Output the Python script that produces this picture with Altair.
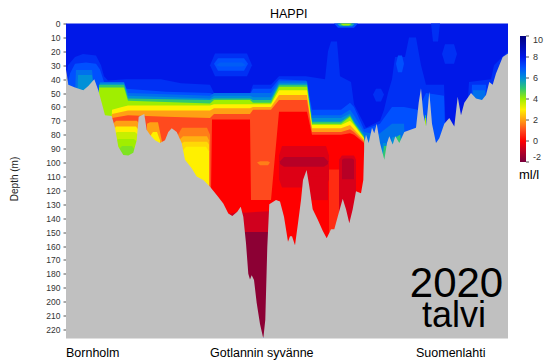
import altair as alt
import pandas as pd

# Colour scale (ml/l)
LEVEL_VALUES = [-2, -1.5, -0.7, 0, 1, 2, 3, 4, 5, 6, 7, 7.5, 8, 10]
LEVEL_COLORS = ['#78003c', '#8c0034', '#d0001e', '#ff0000', '#ff4a1e', '#ffa014', '#fff000',
                '#a0ee00', '#30c870', '#0090d8', '#0050ff', '#0030f4', '#0018e8', '#000080']
LEGEND_VALUES = [-2, 0, 2, 4, 6, 8, 10]
DEPTH_TICKS = list(range(0, 230, 10))
MAX_DEPTH = 226.5
BAND_FLOOR = 225
MAX_DIST = 442

# Sea bed profile: distance along section, depth (m)
BED_X = [0, 0.7, 2.3, 9, 17.3, 22.3, 28.3, 32.3, 35.7, 39, 45.7, 49, 52.3, 57.3, 62.3, 67.3, 70.7, 72.7, 75.7, 78.3,
         80.7, 84, 89, 94, 99, 102.3, 105.7, 110.7, 115.7, 119, 125.7, 130.7, 137.3, 144, 150.7, 157.3, 162.3, 166.3,
         171.3, 174.7, 177.3, 180, 182.3, 184, 185.7, 188, 190.7, 194, 197.3, 199.3, 201.3, 203.3, 210, 214, 218, 222,
         224, 226, 229, 232, 235, 237, 240.6, 243.3, 246.7, 251.7, 256.7, 260.7, 265, 268.3, 271.7, 276.7, 280, 283.3,
         286.7, 290, 295, 297.3, 298.3, 300, 302.7, 306, 308.3, 310.7, 314, 318.3, 321, 323.3, 326.7, 329.3, 333.3,
         338.3, 350, 352.7, 355, 357.3, 360, 361.7, 363.3, 366, 370, 373.3, 378.3, 383.3, 388.3, 391.7, 395, 398.3,
         405, 410, 416, 420, 423.3, 426.7, 430, 436.7, 442]
BED_D = [33, 36, 44, 46, 48, 45, 40, 48, 57, 66, 66.5, 75, 88.6, 94.6, 95, 93, 84, 67, 66, 65,
         76.6, 80, 84, 86, 84, 78, 75.4, 78, 86, 98, 104, 110, 112.6, 117.4, 123.4, 129.4, 136.6, 138.5,
         135.4, 131.8, 139, 158, 180, 184, 181, 184.5, 201, 216, 226.5, 213, 160.5, 130, 127, 128, 139, 157,
         153, 153, 159.5, 143.6, 127, 112.6, 105.4, 117, 133.6, 141, 149, 154.5, 148, 148, 139, 126, 133.6, 143.6,
         133.6, 120.6, 122, 112.6, 86, 80, 86, 75, 79, 72, 86, 98, 86, 81, 87, 81, 86,
         78, 75, 57, 46.6, 65, 74, 62, 49, 72, 86, 82.6, 72, 68, 74, 52.6, 66, 57,
         50, 54, 55, 51.4, 42, 44, 36, 24, 21.5]

# Isolines: distance, depth of the top of each band
L75_X = [0, 2, 9, 17, 30, 35, 38, 42, 60, 95, 115, 144, 148, 184, 187, 205, 213, 240, 259, 262, 265, 271, 274, 285, 288,
         300, 314, 318, 322, 326, 329, 339, 343, 350, 355, 360, 378, 381, 398, 403, 425, 428, 442]
L75_D = [40, 30, 24, 22, 23, 30, 38, 41, 40, 40, 43, 44, 50, 50, 44, 44, 38, 38, 40, 20, 13, 13, 38, 42, 58,
         75, 70, 62, 50, 40, 24, 24, 10, 10, 30, 44, 44, 100, 100, 42, 40, 30, 20]
L7_X = [0, 4, 9, 20, 30, 34, 38, 42, 60, 100, 144, 148, 184, 187, 205, 213, 240, 246, 275, 284, 288, 298, 314, 318, 326,
        338, 352, 360, 378, 380, 403, 406, 420, 424, 442]
L7_D = [48, 36, 29, 28, 29, 33, 42, 47, 47, 49, 50, 51, 51, 47, 47, 40, 41, 62, 62, 57, 60, 76, 72, 68, 60,
        60, 62, 50, 52, 100, 100, 44, 44, 100, 100]
L65_X = [0, 6, 10, 26, 30, 34, 58, 62, 144, 148, 184, 187, 205, 213, 241, 246, 275, 284, 288, 298, 312, 326, 338, 340, 404, 407, 419, 422]
L65_D = [100, 100, 33.5, 33.5, 60, 42, 42, 50, 52, 50, 50, 50, 50, 41.5, 41.5, 66, 66, 62, 66, 78, 80, 72, 72, 100, 100, 48, 48, 100]
L6_X = [0, 10, 12, 26, 30, 34, 58, 62, 144, 148, 184, 187, 205, 213, 241, 246, 275, 284, 288, 298, 300, 314, 317, 320, 324, 326, 335, 338, 442]
L6_D = [100, 100, 37, 37, 60, 43, 43, 52, 54, 52, 52, 53, 53, 43, 43, 68, 68, 64.7, 70, 80, 100, 100, 86, 86, 100, 82, 80, 100, 100]
L5_X = [33, 58, 62, 144, 148, 184, 187, 205, 213, 241, 246, 275, 284, 288, 298, 300, 316, 318, 321, 323, 327, 330, 334, 337, 358, 359, 360, 361, 442]
L5_D = [44, 44, 54, 55, 54, 54, 55, 55, 44, 44, 70.7, 70.7, 66, 71, 81, 100, 100, 88, 88, 100, 100, 82, 80, 100, 100, 66, 66, 100, 100]
L4_X = [33, 58, 62, 144, 148, 184, 187, 205, 213, 241, 246, 275, 284, 288, 298, 300, 358, 359, 360, 361, 442]
L4_D = [46, 46, 55.5, 57.5, 55, 55, 57, 57, 45.5, 45.5, 72, 72, 67, 72, 82, 100, 100, 68, 68, 100, 100]
L3_X = [44, 46, 56, 62, 144, 148, 184, 187, 205, 213, 241, 246, 275, 284, 288, 298, 300]
L3_D = [100, 62, 60, 59, 59, 58, 58, 58, 58, 48, 48, 73, 73, 70, 73, 82.6, 100]
L2_X = [44, 46, 62, 144, 148, 184, 187, 205, 213, 241, 246, 275, 284, 288, 298, 300]
L2_D = [100, 65, 62.5, 62.5, 61, 61, 60, 60, 51.5, 51.5, 75.4, 75.4, 73, 76, 83.8, 100]
L1_X = [44, 46, 62, 100, 144, 148, 184, 187, 205, 213, 241, 246, 275, 284, 288, 298, 300]
L1_D = [100, 68, 66, 67, 68, 65, 65, 62, 62, 55, 55, 78, 78, 76, 78, 85, 100]
L0_X = [143, 146, 184, 185, 205, 213, 241, 246, 275, 284, 288, 298, 300]
L0_D = [225, 69, 69, 127, 127, 63.5, 63.5, 80, 80, 79, 80, 86, 100]
LM07_X = [146, 175, 178, 204]
LM07_D = [140, 135, 136, 135]
LM15_X = [178, 204]
LM15_D = [150, 150]

ISOLINES = [(7.5, L75_X, L75_D), (7, L7_X, L7_D), (6.5, L65_X, L65_D), (6, L6_X, L6_D), (5, L5_X, L5_D),
            (4, L4_X, L4_D), (3, L3_X, L3_D), (2, L2_X, L2_D), (1, L1_X, L1_D), (0, L0_X, L0_D),
            (-0.7, LM07_X, LM07_D), (-1.5, LM15_X, LM15_D)]

# Closed patches painted over the isolines: value, distance, top depth, bottom depth
PATCHES = [
    (2, [46, 50, 71, 74], [73, 70, 70, 73], [100, 100, 100, 100]),
    (3, [47, 50, 70, 73], [77, 74, 74, 77], [100, 100, 100, 100]),
    (3.6, [48, 51, 69, 72], [80, 78, 78, 80], [100, 100, 100, 100]),
    (4, [49, 52, 68, 71], [85, 83, 83, 85], [100, 100, 100, 100]),
    (4.3, [52, 56, 66, 69], [91, 88, 88, 91], [100, 100, 100, 100]),
    (2, [81, 84, 92, 96], [72, 71, 71, 85], [100, 100, 100, 100]),
    (3, [85, 87, 91, 94], [80, 78, 78, 84], [100, 100, 100, 100]),
    (1.6, [112, 116, 141, 144], [80, 75, 75, 80], [130, 130, 130, 130]),
    (2.2, [113, 117, 141, 143], [84, 81, 81, 84], [130, 130, 130, 130]),
    (2.7, [114, 118, 141, 143], [87, 85, 85, 87], [130, 130, 130, 130]),
    (3, [116, 120, 140, 143], [92, 88.6, 88.6, 92], [130, 130, 130, 130]),
    (7.5, [144, 149, 181, 186], [30, 21.5, 21.5, 30], [30, 38, 38, 30]),
    (7, [148, 152, 178, 182], [29, 25, 25, 29], [29, 34, 34, 29]),
    (6.8, [150, 154, 176, 180], [30, 28, 28, 30], [30, 31, 31, 30]),
    (7, [268, 272, 288, 292], [0, 0, 0, 0], [0, 3, 3, 0]),
    (5.5, [271, 274, 286, 289], [0, 0, 0, 0], [0, 2, 2, 0]),
    (4, [274, 277, 283, 286], [0, 0, 0, 0], [0, 1.5, 1.5, 0]),
    (7.5, [365, 367, 372, 374], [0, 0, 0, 0], [0, 13, 13, 0]),
    (7.5, [376, 379, 388, 391], [22, 15, 15, 22], [22, 29, 29, 22]),
    (7.5, [307, 310, 315, 318], [51, 47, 47, 51], [51, 56, 56, 51]),
    (7, [330, 332, 336, 338], [29, 23, 23, 29], [29, 35, 35, 29]),
    (-0.5, [213, 216, 260, 263], [95, 88, 88, 95], [112, 118, 118, 112]),
    (-1, [214, 218, 258, 262], [99, 96, 96, 99], [101, 103, 103, 101]),
    (-0.5, [243, 246, 260, 262], [110, 110, 110, 110], [127, 127, 127, 127]),
    (0.6, [263, 265, 271, 273], [105, 105, 105, 105], [150, 150, 150, 150]),
    (-0.6, [273, 276, 288, 290], [98, 95, 95, 98], [145, 145, 145, 145]),
    (-1, [276, 278, 286, 288], [98, 97, 97, 98], [112, 112, 112, 112]),
    (1.6, [191, 194, 202, 204], [100, 99, 99, 100], [100, 102, 102, 100]),
]

# Text labels: text, left x, baseline y (page pixels), size
PLOT_LEFT, PLOT_TOP = 66, 23.5
FONT = "Liberation Sans"
LABELS = [("HAPPI", 270, 18, 12.5, "left"), ("Bornholm", 66, 357, 12.5, "left"),
          ("Gotlannin syvänne", 210, 357, 12.5, "left"), ("Suomenlahti", 416, 357, 12.5, "left"),
          ("ml/l", 519, 179, 13, "left"), ("2020", 456.5, 297, 42, "center"), ("talvi", 454, 326.7, 36, "center")]
BAR_TOP, BAR_LEN, BAR_RIGHT = 36, 126, 526

x_scale = alt.Scale(domain=[0, MAX_DIST], nice=False, zero=False)
y_scale = alt.Scale(domain=[0, MAX_DEPTH], reverse=True, nice=False, zero=False)
color = alt.Color(
    "v:Q",
    scale=alt.Scale(domain=LEVEL_VALUES, range=LEVEL_COLORS, interpolate="rgb"),
    legend=alt.Legend(orient="none", legendX=454, legendY=12.5, title=None, values=LEGEND_VALUES,
                      gradientLength=BAR_LEN, gradientThickness=6, labelFontSize=9, labelFont=FONT,
                      labelColor="#333333", labelOffset=7, direction="vertical",
                      labelExpr="'' + datum.value"),
)
y_axis = alt.Axis(
    values=DEPTH_TICKS, title="Depth (m)", titleFont=FONT, titleFontSize=10,
    titleFontWeight="normal", titleX=-47, titleY=155, titleColor="#222222", labelFont=FONT,
    labelFontSize=8.5, labelColor="#333333", tickSize=3, tickColor="#555555",
    labelPadding=3, domain=False, grid=False, labelOverlap=False)


def band(v, xs, tops, bottoms):
    df = pd.DataFrame({"x": xs, "d": tops, "d2": bottoms, "v": v})
    return alt.Chart(df).mark_area(interpolate="linear").encode(
        x=alt.X("x:Q", scale=x_scale, axis=None),
        y=alt.Y("d:Q", scale=y_scale, axis=y_axis),
        y2="d2:Q",
        color=color,
    )


layers = [band(8, [0, MAX_DIST], [0, 0], [BAND_FLOOR + 1, BAND_FLOOR + 1])]
for v, xs, ds in ISOLINES:
    layers.append(band(v, xs, ds, [BAND_FLOOR] * len(xs)))
for v, xs, tops, bottoms in PATCHES:
    layers.append(band(v, xs, tops, bottoms))

bed_df = pd.DataFrame({"x": BED_X, "d": BED_D, "d2": [MAX_DEPTH] * len(BED_X)})
layers.append(alt.Chart(bed_df).mark_area(color="#c0c0c0", interpolate="linear").encode(
    x=alt.X("x:Q", scale=x_scale, axis=None),
    y=alt.Y("d:Q", scale=y_scale, axis=y_axis),
    y2="d2:Q",
))

for text, px, py, size, align in LABELS:
    layers.append(alt.Chart(pd.DataFrame({"a": [0]})).mark_text(
        text=text, font=FONT, fontSize=size, align=align, baseline="alphabetic", color="#000000"
    ).encode(x=alt.value(px - PLOT_LEFT), y=alt.value(py - PLOT_TOP)))

# Short tick marks beside the colour bar
for lv in LEGEND_VALUES:
    tick_y = BAR_TOP + (10 - lv) / 12 * BAR_LEN - PLOT_TOP
    layers.append(alt.Chart(pd.DataFrame({"a": [0]})).mark_rule(color="#555555", strokeWidth=1).encode(
        x=alt.value(BAR_RIGHT - PLOT_LEFT), x2=alt.value(BAR_RIGHT + 3 - PLOT_LEFT), y=alt.value(tick_y)))

chart = alt.layer(*layers).properties(
    width=442, height=315,
    autosize=alt.AutoSizeParams(type="none"),
    padding={"left": 58, "top": 15.5, "right": 40, "bottom": 21.5},
).configure_view(stroke=None)

chart.save("out.html", embed_options={"renderer": "svg", "actions": False})
